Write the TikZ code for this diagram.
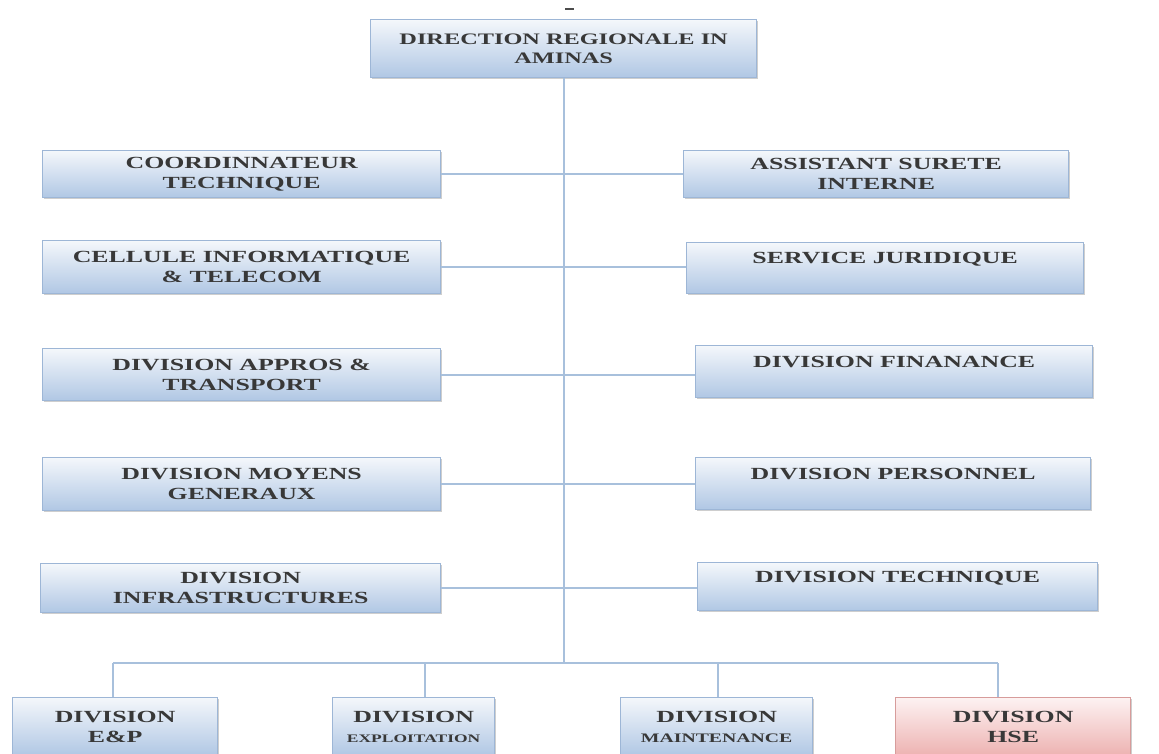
\documentclass[tikz,border=0pt]{standalone}
\usepackage{fontspec}
\usetikzlibrary{shadows}
\newfontfamily\boxfont{Liberation Serif}[FakeStretch=1.52]
\definecolor{boxtop}{HTML}{F4F7FB}
\definecolor{boxbot}{HTML}{B0C7E4}
\definecolor{boxline}{HTML}{9DB6D6}
\definecolor{hsetop}{HTML}{FDF2F2}
\definecolor{hsebot}{HTML}{EDB2B1}
\definecolor{hseline}{HTML}{D79C9B}
\definecolor{conn}{HTML}{A8C0DC}
\definecolor{txt}{HTML}{383838}
\tikzset{
  orgbox/.style={draw=boxline, line width=1.3pt, top color=boxtop, bottom color=boxbot,
    anchor=north west, inner sep=0pt, align=center, text=txt,
    font=\boxfont\bfseries\fontsize{17}{20}\selectfont,
    drop shadow={shadow xshift=1.6pt, shadow yshift=-1.6pt, opacity=0.35, fill=black!55}},
  hsebox/.style={orgbox, draw=hseline, top color=hsetop, bottom color=hsebot},
  link/.style={draw=conn, line width=2pt}
}
\newcommand{\smtxt}[1]{{\fontsize{11.5}{18}\selectfont #1}}
\newcommand{\mdtxt}[1]{{\fontsize{13}{18}\selectfont #1}}
\begin{document}
\begin{tikzpicture}[x=1pt,y=-1pt]
\clip (0,0) rectangle (1159,754);
\fill[white] (0,0) rectangle (1159,754);
% top mark
\node[fill=black!70, minimum width=9pt, minimum height=2.2pt, inner sep=0pt] (mark) at (569,9) {};
% top box
\node[orgbox, minimum width=386pt, minimum height=58pt, font=\boxfont\bfseries\fontsize{16}{19}\selectfont] (top) at (370,19) {DIRECTION REGIONALE IN\\AMINAS};
% left column
\node[orgbox, minimum width=398pt, minimum height=47pt] (L1) at (42,150) {COORDINNATEUR\\TECHNIQUE};
\node[orgbox, minimum width=398pt, minimum height=53pt] (L2) at (42,240) {CELLULE INFORMATIQUE\\\& TELECOM};
\node[orgbox, minimum width=398pt, minimum height=52pt] (L3) at (42,348) {DIVISION APPROS \&\\TRANSPORT};
\node[orgbox, minimum width=398pt, minimum height=53pt] (L4) at (42,457) {DIVISION MOYENS\\GENERAUX};
\node[orgbox, minimum width=400pt, minimum height=49pt] (L5) at (40,563) {DIVISION\\INFRASTRUCTURES};
% right column
\node[orgbox, minimum width=385pt, minimum height=47pt] (R1) at (683,150) {ASSISTANT SURETE\\INTERNE};
\node[orgbox, minimum width=397pt, minimum height=51pt] (R2) at (686,242) {SERVICE JURIDIQUE\\\mbox{}};
\node[orgbox, minimum width=397pt, minimum height=52pt] (R3) at (695,345) {DIVISION FINANANCE\\\mbox{}};
\node[orgbox, minimum width=395pt, minimum height=52pt] (R4) at (695,457) {DIVISION PERSONNEL\\\mbox{}};
\node[orgbox, minimum width=400pt, minimum height=48pt] (R5) at (697,562) {DIVISION TECHNIQUE\\\mbox{}};
% bottom row
\node[orgbox, minimum width=205pt, minimum height=58pt] (B1) at (12,697) {DIVISION\\E\&P};
\node[orgbox, minimum width=162pt, minimum height=58pt] (B2) at (332,697) {DIVISION\\\smtxt{EXPLOITATION}};
\node[orgbox, minimum width=192pt, minimum height=58pt] (B3) at (620,697) {DIVISION\\\mdtxt{MAINTENANCE}};
\node[hsebox, minimum width=235pt, minimum height=58pt] (B4) at (895,697) {DIVISION\\HSE};
% bus junctions
\coordinate (j1) at (113,663);
\coordinate (j2) at (425,663);
\coordinate (j3) at (718,663);
\coordinate (j4) at (998,663);
% connectors
\draw[link] (top.south) -- (top.south |- j1);
\draw[link] (L1.east) -- (R1.west |- L1.east);
\draw[link] (L2.east) -- (R2.west |- L2.east);
\draw[link] (L3.east) -- (R3.west |- L3.east);
\draw[link] (L4.east) -- (R4.west |- L4.east);
\draw[link] (L5.east) -- (R5.west |- L5.east);
\draw[link] (j1) -- (j4);
\draw[link] (j1) -- (j1 |- B1.north);
\draw[link] (j2) -- (j2 |- B2.north);
\draw[link] (j3) -- (j3 |- B3.north);
\draw[link] (j4) -- (j4 |- B4.north);
\end{tikzpicture}
\end{document}
